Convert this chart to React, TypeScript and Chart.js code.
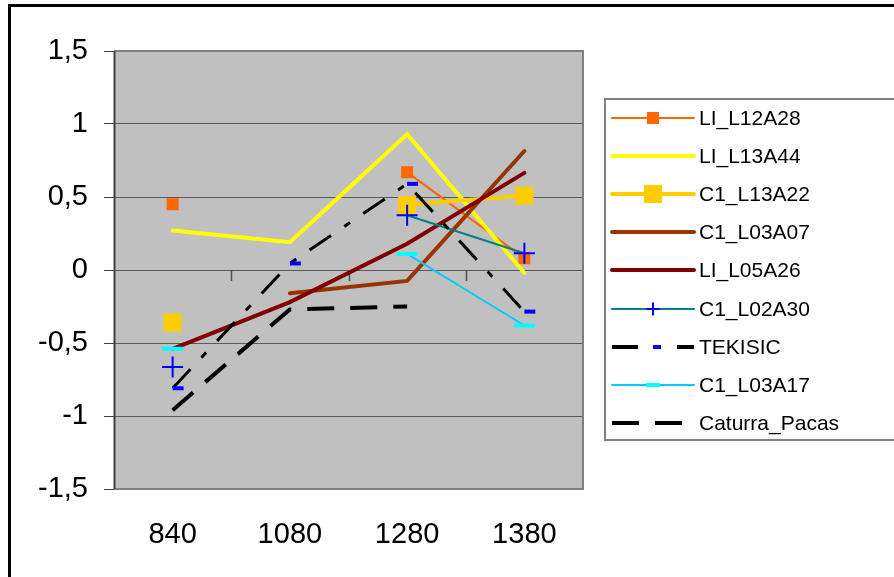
import React, { useEffect, useRef } from 'react';
import { Chart, registerables } from 'chart.js';

Chart.register(...registerables);

// ---- data ----
const categories = ['840', '1080', '1280', '1380'];
const yTicks = [-1.5, -1, -0.5, 0, 0.5, 1, 1.5];

const LI_L12A28 = [0.45, null, 0.67, 0.08];
const LI_L13A44 = [0.27, 0.19, 0.93, -0.02];
const C1_L13A22 = [-0.36, null, 0.445, 0.51];
const C1_L03A07 = [null, -0.16, -0.075, 0.815];
const LI_L05A26 = [-0.54, -0.22, 0.18, 0.665];
const C1_L02A30 = [-0.665, null, 0.375, 0.115];
const TEKISIC = [-0.81, 0.045, 0.59, -0.285];
const C1_L03A17 = [-0.54, null, 0.11, -0.38];
const Caturra_Pacas = [-0.96, -0.27, -0.25, null];

const seriesNames = ['LI_L12A28', 'LI_L13A44', 'C1_L13A22', 'C1_L03A07', 'LI_L05A26', 'C1_L02A30', 'TEKISIC', 'C1_L03A17', 'Caturra_Pacas'];
const seriesValues = [LI_L12A28, LI_L13A44, C1_L13A22, C1_L03A07, LI_L05A26, C1_L02A30, TEKISIC, C1_L03A17, Caturra_Pacas];

// ---- styles ----
type Sty = {
  color: string; width: number; dash?: number[]; cap: CanvasLineCap;
  point: string | false; pointRadius: number; pointColor: string; pointBorder: number; legendRadius: number;
};
const styles: Sty[] = [
  { color: '#FF6600', width: 2, cap: 'round', point: 'rect', pointRadius: 8.5, pointColor: '#FF6600', pointBorder: 0, legendRadius: 8.5 },
  { color: '#FFFF00', width: 4, cap: 'round', point: false, pointRadius: 0, pointColor: '#FFFF00', pointBorder: 0, legendRadius: 0 },
  { color: '#FFCC00', width: 4, cap: 'round', point: 'rect', pointRadius: 12.7, pointColor: '#FFCC00', pointBorder: 0, legendRadius: 12.7 },
  { color: '#993300', width: 4, cap: 'round', point: false, pointRadius: 0, pointColor: '#993300', pointBorder: 0, legendRadius: 0 },
  { color: '#800000', width: 4, cap: 'round', point: false, pointRadius: 0, pointColor: '#800000', pointBorder: 0, legendRadius: 0 },
  { color: '#008080', width: 2, cap: 'round', point: 'cross', pointRadius: 10.5, pointColor: '#0000FF', pointBorder: 2, legendRadius: 6.5 },
  { color: '#000000', width: 3, dash: [26, 16, 7, 16], cap: 'butt', point: 'dash', pointRadius: 11, pointColor: '#0000FF', pointBorder: 4, legendRadius: 7 },
  { color: '#00CCFF', width: 2, cap: 'round', point: 'line', pointRadius: 10.5, pointColor: '#00FFFF', pointBorder: 4, legendRadius: 7 },
  { color: '#000000', width: 4, dash: [27, 16], cap: 'butt', point: false, pointRadius: 0, pointColor: '#000000', pointBorder: 0, legendRadius: 0 },
];

const FONT = "'Liberation Sans', Arial, sans-serif";

const bgPlugin = {
  id: 'plotBg',
  beforeDraw(chart: any) {
    const { ctx, chartArea: a } = chart;
    ctx.save();
    ctx.fillStyle = '#C0C0C0';
    ctx.fillRect(a.left, a.top, a.right - a.left, a.bottom - a.top);
    ctx.restore();
  },
};

const framePlugin = {
  id: 'frame',
  beforeDatasetsDraw(chart: any) {
    const { ctx, chartArea: a, scales } = chart;
    const y0 = scales.y.getPixelForValue(0);
    const n = categories.length;
    const w = (a.right - a.left) / n;
    ctx.save();
    ctx.strokeStyle = '#505050';
    ctx.lineWidth = 1.5;
    for (let i = 1; i < n; i++) {
      const x = Math.round(a.left + w * i) + 0.5;
      ctx.beginPath();
      ctx.moveTo(x, y0);
      ctx.lineTo(x, y0 + 11);
      ctx.stroke();
    }
    ctx.lineWidth = 2;
    ctx.strokeStyle = '#808080';
    ctx.beginPath();
    ctx.moveTo(a.left, a.top);
    ctx.lineTo(a.right, a.top);
    ctx.lineTo(a.right, a.bottom);
    ctx.lineTo(a.left, a.bottom);
    ctx.stroke();
    ctx.strokeStyle = '#404040';
    ctx.beginPath();
    ctx.moveTo(a.left + 0.5, a.top);
    ctx.lineTo(a.left + 0.5, a.bottom);
    ctx.stroke();
    ctx.restore();
  },
};

function drawMarker(ctx: CanvasRenderingContext2D, s: Sty, x: number, y: number) {
  if (!s.point) return;
  const r = s.legendRadius;
  ctx.save();
  ctx.setLineDash([]);
  ctx.fillStyle = s.pointColor;
  ctx.strokeStyle = s.pointColor;
  ctx.lineWidth = s.pointBorder;
  ctx.lineCap = 'butt';
  if (s.point === 'rect') {
    const h = Math.SQRT1_2 * r;
    ctx.fillRect(x - h, y - h, 2 * h, 2 * h);
  } else if (s.point === 'cross') {
    ctx.beginPath();
    ctx.moveTo(x - r, y); ctx.lineTo(x + r, y);
    ctx.moveTo(x, y - r); ctx.lineTo(x, y + r);
    ctx.stroke();
  } else if (s.point === 'dash') {
    ctx.beginPath();
    ctx.moveTo(x, y); ctx.lineTo(x + r, y);
    ctx.stroke();
  } else if (s.point === 'line') {
    ctx.beginPath();
    ctx.moveTo(x - r, y); ctx.lineTo(x + r, y);
    ctx.stroke();
  }
  ctx.restore();
}

const legendPlugin = {
  id: 'customLegend',
  afterDraw(chart: any) {
    const ctx: CanvasRenderingContext2D = chart.ctx;
    ctx.save();
    // outer chart border (cropped on right/bottom)
    ctx.fillStyle = '#000000';
    ctx.fillRect(8, 4, 3, 600);
    ctx.fillRect(8, 4, 900, 3);
    // legend box
    ctx.strokeStyle = '#808080';
    ctx.lineWidth = 2;
    ctx.strokeRect(605, 99, 400, 341);
    const x0 = 612, x1 = 694, cx = 653;
    const top = 118, step = 38.1;
    ctx.font = `21px ${FONT}`;
    ctx.textBaseline = 'middle';
    ctx.textAlign = 'left';
    seriesNames.forEach((name, i) => {
      const s = styles[i];
      const y = Math.round(top + step * i);
      ctx.save();
      ctx.strokeStyle = s.color;
      ctx.lineWidth = i === 6 ? 4 : s.width;
      ctx.lineCap = s.cap;
      ctx.setLineDash(s.dash || []);
      ctx.beginPath();
      ctx.moveTo(x0, y);
      ctx.lineTo(x1, y);
      ctx.stroke();
      ctx.restore();
      drawMarker(ctx, s, cx, y);
      ctx.fillStyle = '#000000';
      ctx.fillText(name, 699, y + 1);
    });
    ctx.restore();
  },
};

export default function App() {
  const ref = useRef<HTMLCanvasElement>(null);
  useEffect(() => {
    document.body.style.margin = '0';
    const canvas = ref.current!;
    const datasets = seriesNames.map((name, i) => {
      const s = styles[i];
      return {
        label: name,
        data: seriesValues[i],
        borderColor: s.color,
        backgroundColor: s.pointColor,
        borderWidth: s.width,
        borderDash: s.dash || [],
        borderCapStyle: s.cap,
        borderJoinStyle: 'miter' as CanvasLineJoin,
        tension: 0,
        spanGaps: false,
        fill: false,
        pointStyle: s.point || 'circle',
        pointRadius: s.pointRadius,
        pointHoverRadius: s.pointRadius,
        pointBackgroundColor: s.pointColor,
        pointBorderColor: s.pointColor,
        pointBorderWidth: s.pointBorder,
        order: seriesNames.length - i,
      };
    });
    const chart = new Chart(canvas, {
      type: 'line',
      data: { labels: categories, datasets },
      plugins: [bgPlugin, framePlugin, legendPlugin],
      options: {
        responsive: false,
        animation: false,
        devicePixelRatio: 1,
        layout: { padding: { left: 0, top: 51, right: 311, bottom: 0 } },
        plugins: { legend: { display: false }, tooltip: { enabled: false } },
        scales: {
          x: {
            type: 'category',
            offset: true,
            grid: { display: false, drawTicks: false },
            border: { display: false },
            ticks: { color: '#000', font: { family: FONT, size: 29 }, padding: 29, maxRotation: 0, autoSkip: false },
            afterFit: (sc: any) => { sc.height = 88; },
          },
          y: {
            type: 'linear',
            min: yTicks[0],
            max: yTicks[yTicks.length - 1],
            afterBuildTicks: (sc: any) => { sc.ticks = yTicks.map((v) => ({ value: v })); },
            grid: { color: '#595959', lineWidth: 1, drawTicks: true, tickLength: 10, tickColor: '#404040' },
            border: { display: false },
            ticks: {
              color: '#000',
              font: { family: FONT, size: 29 },
              padding: 16,
              callback: (v: any) => String(v).replace('.', ','),
            },
            afterFit: (sc: any) => { sc.width = 114; },
          },
        },
      } as any,
    });
    return () => chart.destroy();
  }, []);
  return (
    <div style={{ width: 894, height: 577 }}>
      <canvas ref={ref} width={894} height={577} style={{ display: 'block' }} />
    </div>
  );
}
